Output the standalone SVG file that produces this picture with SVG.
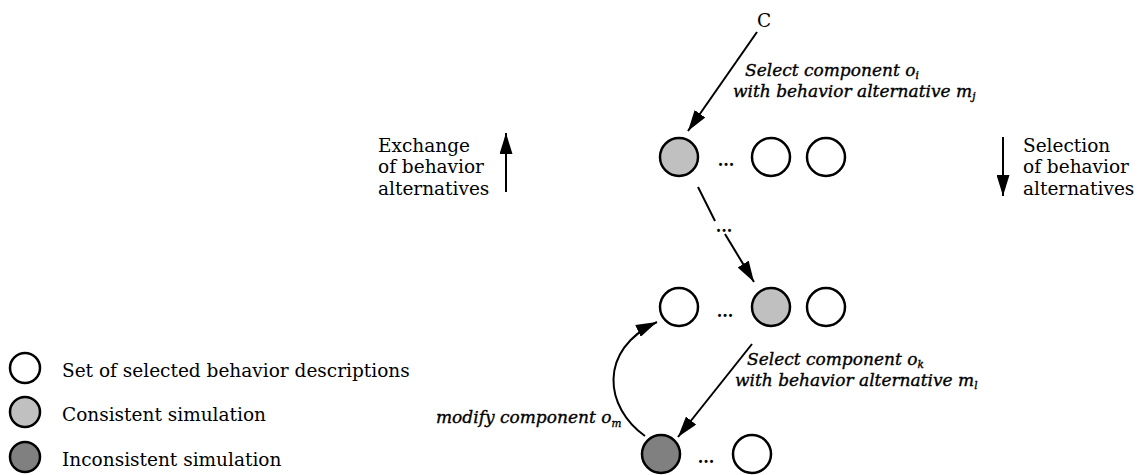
<svg xmlns="http://www.w3.org/2000/svg" width="1141" height="475" viewBox="0 0 1141 475">
<style>
.t{font-family:"DejaVu Serif","Liberation Serif",serif;font-size:18.5px;fill:#000}
.i{font-family:"DejaVu Serif","Liberation Serif",serif;font-size:17px;font-style:italic;fill:#000;stroke:#000;stroke-width:0.35}
.s{font-size:10.5px}
.c{stroke:#000;stroke-width:2.5}
.w{fill:#fff}
.g{fill:#c0c0c0}
.d{fill:#808080}
.l{stroke:#000;stroke-width:2;fill:none}
.dots{font-family:"DejaVu Serif","Liberation Serif",serif;font-size:16px;font-weight:bold;fill:#000}
</style>
<defs>
<marker id="ah" viewBox="0 0 21 13" refX="21" refY="6.5" markerWidth="21" markerHeight="13" markerUnits="userSpaceOnUse" orient="auto">
<path d="M0,0 L21,6.5 L0,13 z" fill="#000"/>
</marker>
</defs>

<g id="legend">
<circle class="c w" cx="25" cy="368" r="15"/>
<text class="t" x="62" y="377">Set of selected behavior descriptions</text>
<circle class="c g" cx="25" cy="412" r="15"/>
<text class="t" x="62" y="421">Consistent simulation</text>
<circle class="c d" cx="25" cy="457" r="15"/>
<text class="t" x="62" y="466">Inconsistent simulation</text>
</g>

<g id="left-label">
<text class="t" x="378" y="152">Exchange</text>
<text class="t" x="378" y="173">of behavior</text>
<text class="t" x="378" y="195">alternatives</text>
</g>
<g id="right-label">
<text class="t" x="1023" y="152">Selection</text>
<text class="t" x="1023" y="173">of behavior</text>
<text class="t" x="1023" y="195">alternatives</text>
</g>

<g id="start-c"><text class="t" x="764" y="27" text-anchor="middle">C</text></g>

<g id="row1">
<circle class="c g" cx="679" cy="157" r="19"/>
<text class="dots" x="726" y="166" text-anchor="middle">...</text>
<circle class="c w" cx="771" cy="157" r="19"/>
<circle class="c w" cx="826" cy="157" r="19"/>
</g>

<g id="row2">
<circle class="c w" cx="679" cy="307" r="19"/>
<text class="dots" x="725" y="317" text-anchor="middle">...</text>
<circle class="c g" cx="771" cy="307" r="19"/>
<circle class="c w" cx="826" cy="307" r="19"/>
</g>

<g id="row3">
<circle class="c d" cx="661" cy="454" r="19"/>
<text class="dots" x="706" y="463" text-anchor="middle">...</text>
<circle class="c w" cx="752" cy="454" r="19"/>
</g>

<g id="labels">
<text class="i" x="745" y="76">Select component  o<tspan class="s" dy="3">i</tspan></text>
<text class="i" x="733" y="97">with behavior alternative m<tspan class="s" dy="3">j</tspan></text>
<text class="i" x="747" y="365">Select component  o<tspan class="s" dy="3">k</tspan></text>
<text class="i" x="735" y="386">with behavior alternative m<tspan class="s" dy="3">l</tspan></text>
<text class="i" x="436" y="423">modify component o<tspan class="s" dy="4">m</tspan></text>
</g>

<g id="connectors">
<line class="l" x1="757" y1="32" x2="688" y2="131" marker-end="url(#ah)"/>
<line class="l" x1="698" y1="187" x2="715" y2="221"/>
<text class="dots" x="724" y="232" text-anchor="middle">...</text>
<line class="l" x1="725" y1="234" x2="754" y2="282" marker-end="url(#ah)"/>
<line class="l" x1="752" y1="344" x2="678" y2="437" marker-end="url(#ah)"/>
<path class="l" d="M645,436 C605,408 597,350 657,322" marker-end="url(#ah)"/>
<line class="l" x1="506" y1="192" x2="506" y2="133" marker-end="url(#ah)"/>
<line class="l" x1="1003" y1="137" x2="1003" y2="196" marker-end="url(#ah)"/>
</g>
</svg>
